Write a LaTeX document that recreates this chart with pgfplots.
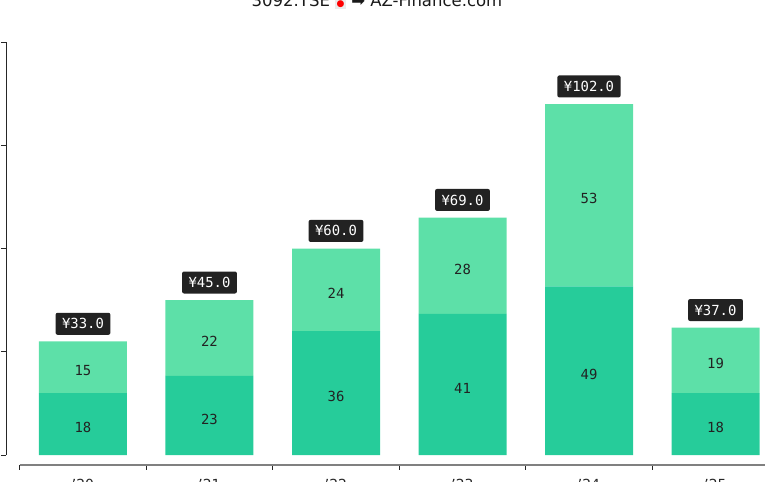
\documentclass[border=0pt]{standalone}
\usepackage{pgfplots}
\pgfplotsset{compat=1.18}
\usepackage{fontspec}
\setmainfont{DejaVu Sans}
\newfontfamily\monofont{DejaVu Sans Mono}
\definecolor{barA}{HTML}{26CC9A}
\definecolor{barB}{HTML}{5DE0A8}
\definecolor{boxc}{HTML}{222222}
\definecolor{spinec}{HTML}{808080}
\begin{document}
\begin{tikzpicture}
\pgfplotsset{
  common/.style={
    x=126.5pt, y=3.44pt,
    xmin=-0.6087, xmax=5.5, ymin=-2.9, ymax=120,
    clip=false,
    at={(0,0)}, anchor=south west,
  }
}
\begin{axis}[common,
  ybar stacked, bar width=88pt,
  axis x line*=bottom, axis y line*=left,
  axis line style={draw=none},
  tick align=outside, major tick length=5pt,
  xtick={-0.5,0.5,1.5,2.5,3.5,4.5,5.5}, xticklabels={},
  extra x ticks={0,1,2,3,4,5},
  extra x tick labels={'20,'21,'22,'23,'24,'25},
  extra x tick style={major tick length=0pt,
    tick label style={font=\fontsize{13.9}{16}\selectfont, text=black!85, yshift=-11pt}},
  ytick={0,30,60,90,120}, yticklabels={},
  tick style={black!85, line width=0.8pt},
]
\addplot[fill=barA, draw=none] coordinates {(0,18) (1,23) (2,36) (3,41) (4,49) (5,18)};
\addplot[fill=barB, draw=none] coordinates {(0,15) (1,22) (2,24) (3,28) (4,53) (5,19)};
\draw[black!85, line width=0.8pt] (axis cs:-0.6087,0) -- (axis cs:-0.6087,120);
\draw[spinec, line width=1.6pt] (axis cs:-0.5,-2.9) -- (axis cs:5.6,-2.9);
\coordinate (bbl) at (axis cs:-0.6561,-7.558);
\coordinate (bbr) at (axis cs:5.3913,132.27);
\node[anchor=base, font=\fontsize{16.5}{19}\selectfont, text=black!90] at (axis cs:2.324,130.5)
  {3092.TSE {\fboxsep=1.5pt\colorbox{black!8}{\textcolor{red}{\fontsize{9}{9}\selectfont ●}}} ➡ AZ-Finance.com};
\end{axis}
\begin{axis}[common, hide axis]
\addplot[draw=none, nodes near coords, point meta=explicit symbolic,
  every node near coord/.append style={anchor=center, yshift=-3.5pt, font=\monofont\fontsize{13.9}{16}\selectfont, text=boxc}]
  coordinates {(0,9) [18] (1,11.5) [23] (2,18) [36] (3,20.5) [41] (4,24.5) [49] (5,9) [18]};
\addplot[draw=none, nodes near coords, point meta=explicit symbolic,
  every node near coord/.append style={anchor=center, yshift=-3.5pt, font=\monofont\fontsize{13.9}{16}\selectfont, text=boxc}]
  coordinates {(0,25.5) [15] (1,34) [22] (2,48) [24] (3,55) [28] (4,75.5) [53] (5,27.5) [19]};
\addplot[draw=none, nodes near coords, point meta=explicit symbolic,
  every node near coord/.append style={anchor=south, yshift=6.5pt, fill=boxc, text=white,
    rounded corners=2pt, inner xsep=6.5pt, inner ysep=0pt, minimum height=22pt,
    font=\monofont\fontsize{13.9}{16}\selectfont}]
  coordinates {(0,33) [¥33.0] (1,45) [¥45.0] (2,60) [¥60.0] (3,69) [¥69.0] (4,102) [¥102.0] (5,37) [¥37.0]};
\end{axis}
\pgfresetboundingbox
\path[use as bounding box] (bbl) rectangle (bbr);
\end{tikzpicture}
\end{document}
